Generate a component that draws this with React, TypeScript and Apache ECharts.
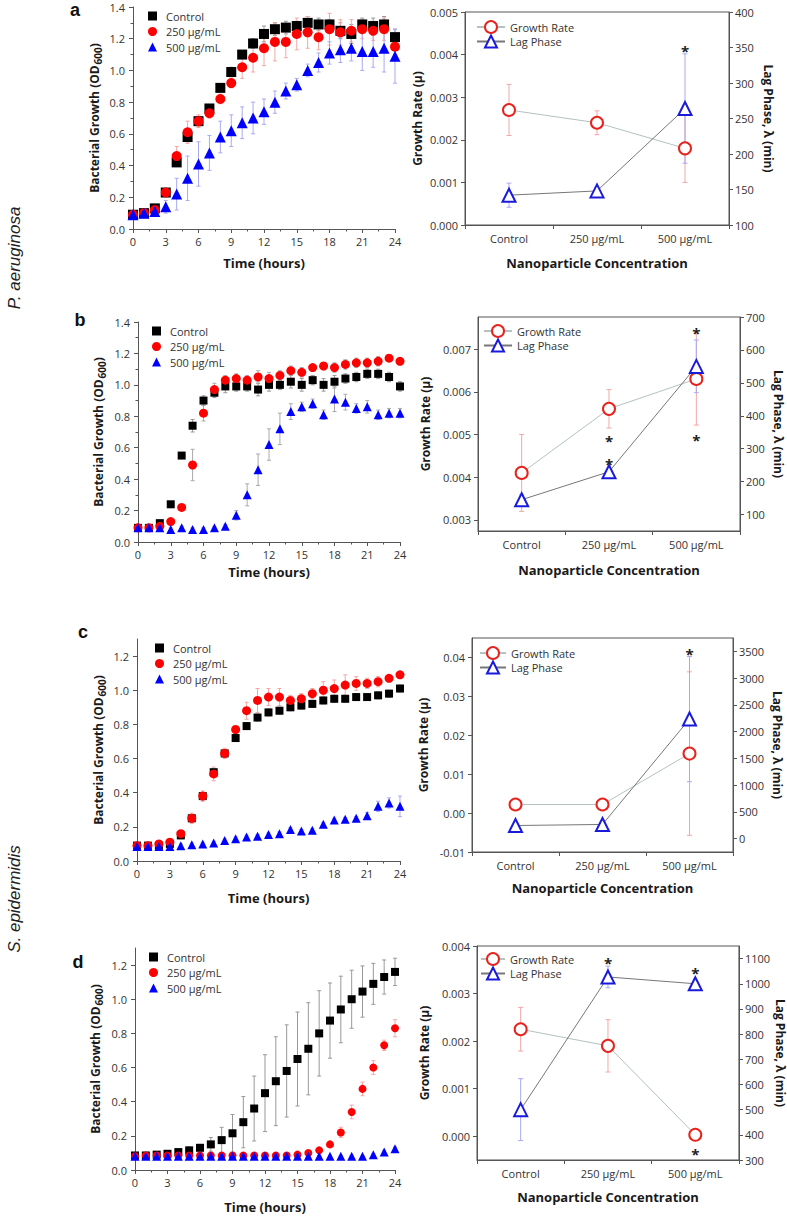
import React, { useEffect, useRef } from 'react';
import * as echarts from 'echarts';

// ---------- data ----------
const HOURS = [0, 1, 2, 3, 4, 5, 6, 7, 8, 9, 10, 11, 12, 13, 14, 15, 16, 17, 18, 19, 20, 21, 22, 23, 24];
const HOUR_STEP = 3;
const OD_TICKS_14 = [0, 0.2, 0.4, 0.6, 0.8, 1.0, 1.2, 1.4];
const OD_TICKS_12 = [0, 0.2, 0.4, 0.6, 0.8, 1.0, 1.2];
const GROUPS = ['Control', '250 µg/mL', '500 µg/mL'];
const CONC = ['Control', '250 µg/mL', '500 µg/mL'];
const RIGHT_NAMES = ['Growth Rate', 'Lag Phase'];

// panel a (P. aeruginosa)
const A_CTRL = [0.09, 0.10, 0.13, 0.23, 0.42, 0.58, 0.68, 0.76, 0.89, 0.99, 1.10, 1.17, 1.23, 1.26, 1.27, 1.28, 1.30, 1.29, 1.29, 1.25, 1.23, 1.29, 1.28, 1.29, 1.21];
const A_CTRL_ERR = [0.01, 0.01, 0.01, 0.02, 0.02, 0.03, 0.03, 0.02, 0.02, 0.03, 0.02, 0.03, 0.05, 0.04, 0.04, 0.03, 0.04, 0.04, 0.03, 0.05, 0.06, 0.04, 0.05, 0.05, 0.05];
const A_250 = [0.09, 0.10, 0.12, 0.23, 0.46, 0.61, 0.68, 0.73, 0.82, 0.92, 1.02, 1.08, 1.14, 1.18, 1.18, 1.23, 1.24, 1.21, 1.26, 1.24, 1.25, 1.26, 1.25, 1.26, 1.15];
const A_250_ERR = [0.01, 0.01, 0.02, 0.02, 0.06, 0.07, 0.04, 0.03, 0.03, 0.03, 0.07, 0.09, 0.11, 0.12, 0.10, 0.10, 0.10, 0.08, 0.10, 0.08, 0.07, 0.06, 0.06, 0.07, 0.05];
const A_500 = [0.09, 0.10, 0.11, 0.14, 0.22, 0.32, 0.41, 0.48, 0.58, 0.62, 0.67, 0.70, 0.74, 0.80, 0.87, 0.91, 1.00, 1.05, 1.11, 1.13, 1.14, 1.12, 1.12, 1.14, 1.09];
const A_500_ERR = [0.01, 0.01, 0.02, 0.04, 0.10, 0.14, 0.14, 0.11, 0.10, 0.10, 0.10, 0.10, 0.08, 0.07, 0.05, 0.04, 0.04, 0.06, 0.07, 0.08, 0.08, 0.12, 0.10, 0.15, 0.17];

// panel b (P. aeruginosa)
const B_CTRL = [0.09, 0.09, 0.12, 0.24, 0.55, 0.74, 0.90, 0.95, 0.99, 0.99, 0.99, 0.97, 1.00, 1.00, 1.02, 1.00, 1.03, 1.00, 1.02, 1.04, 1.05, 1.07, 1.07, 1.05, 0.99];
const B_CTRL_ERR = [0.01, 0.01, 0.01, 0.01, 0.01, 0.04, 0.03, 0.03, 0.04, 0.03, 0.03, 0.04, 0.04, 0.03, 0.04, 0.04, 0.03, 0.04, 0.04, 0.03, 0.03, 0.03, 0.03, 0.03, 0.03];
const B_250 = [0.09, 0.09, 0.10, 0.13, 0.22, 0.49, 0.82, 0.97, 1.03, 1.04, 1.03, 1.05, 1.04, 1.06, 1.09, 1.08, 1.11, 1.12, 1.11, 1.13, 1.14, 1.14, 1.15, 1.17, 1.15];
const B_250_ERR = [0.01, 0.01, 0.01, 0.01, 0.01, 0.10, 0.05, 0.04, 0.03, 0.03, 0.03, 0.04, 0.04, 0.03, 0.03, 0.03, 0.02, 0.02, 0.03, 0.03, 0.03, 0.03, 0.03, 0.02, 0.02];
const B_500 = [0.09, 0.09, 0.09, 0.08, 0.09, 0.08, 0.08, 0.09, 0.10, 0.17, 0.30, 0.46, 0.62, 0.72, 0.83, 0.86, 0.88, 0.81, 0.91, 0.89, 0.85, 0.86, 0.81, 0.82, 0.82];
const B_500_ERR = [0.01, 0.01, 0.01, 0.01, 0.01, 0.01, 0.01, 0.01, 0.01, 0.03, 0.07, 0.10, 0.10, 0.10, 0.05, 0.03, 0.03, 0.03, 0.08, 0.05, 0.03, 0.04, 0.03, 0.03, 0.03];

// panel c (S. epidermidis)
const C_CTRL = [0.09, 0.09, 0.09, 0.10, 0.15, 0.25, 0.38, 0.52, 0.63, 0.72, 0.79, 0.84, 0.87, 0.88, 0.90, 0.91, 0.92, 0.94, 0.95, 0.95, 0.96, 0.96, 0.97, 0.98, 1.01];
const C_CTRL_ERR = [0.01, 0.01, 0.01, 0.01, 0.02, 0.02, 0.02, 0.02, 0.02, 0.02, 0.02, 0.02, 0.02, 0.02, 0.02, 0.02, 0.02, 0.02, 0.02, 0.02, 0.02, 0.02, 0.02, 0.02, 0.02];
const C_250 = [0.09, 0.09, 0.10, 0.11, 0.16, 0.25, 0.38, 0.51, 0.63, 0.77, 0.88, 0.94, 0.96, 0.96, 0.94, 0.95, 0.98, 1.00, 1.01, 1.03, 1.04, 1.04, 1.05, 1.07, 1.09];
const C_250_ERR = [0.01, 0.01, 0.01, 0.02, 0.02, 0.03, 0.03, 0.04, 0.03, 0.02, 0.05, 0.07, 0.05, 0.05, 0.03, 0.03, 0.03, 0.05, 0.05, 0.06, 0.04, 0.03, 0.03, 0.02, 0.02];
const C_500 = [0.085, 0.085, 0.085, 0.085, 0.09, 0.095, 0.10, 0.105, 0.12, 0.13, 0.14, 0.145, 0.155, 0.16, 0.185, 0.175, 0.18, 0.215, 0.24, 0.245, 0.25, 0.265, 0.32, 0.34, 0.32];
const C_500_ERR = [0.01, 0.01, 0.01, 0.01, 0.01, 0.01, 0.01, 0.01, 0.01, 0.01, 0.01, 0.01, 0.01, 0.01, 0.01, 0.01, 0.01, 0.01, 0.01, 0.01, 0.01, 0.02, 0.03, 0.03, 0.06];

// panel d (S. epidermidis)
const D_CTRL = [0.085, 0.085, 0.09, 0.095, 0.105, 0.115, 0.13, 0.15, 0.175, 0.215, 0.28, 0.36, 0.45, 0.52, 0.58, 0.65, 0.71, 0.80, 0.875, 0.94, 1.00, 1.045, 1.09, 1.13, 1.16];
const D_CTRL_ERR = [0.01, 0.01, 0.01, 0.01, 0.01, 0.02, 0.02, 0.04, 0.075, 0.11, 0.15, 0.19, 0.225, 0.26, 0.27, 0.275, 0.27, 0.25, 0.22, 0.195, 0.17, 0.15, 0.12, 0.10, 0.08];
const D_250 = [0.08, 0.085, 0.085, 0.085, 0.085, 0.085, 0.085, 0.085, 0.085, 0.085, 0.085, 0.085, 0.085, 0.085, 0.085, 0.09, 0.10, 0.115, 0.15, 0.22, 0.34, 0.475, 0.60, 0.73, 0.83];
const D_250_ERR = [0.01, 0.01, 0.01, 0.01, 0.01, 0.01, 0.01, 0.01, 0.01, 0.01, 0.01, 0.01, 0.01, 0.01, 0.01, 0.01, 0.01, 0.01, 0.015, 0.03, 0.04, 0.04, 0.04, 0.03, 0.05];
const D_500 = [0.08, 0.08, 0.08, 0.08, 0.08, 0.08, 0.08, 0.08, 0.08, 0.08, 0.08, 0.08, 0.08, 0.08, 0.08, 0.08, 0.08, 0.08, 0.08, 0.08, 0.08, 0.08, 0.09, 0.105, 0.125];
const D_500_ERR = [0.005, 0.005, 0.005, 0.005, 0.005, 0.005, 0.005, 0.005, 0.005, 0.005, 0.005, 0.005, 0.005, 0.005, 0.005, 0.005, 0.005, 0.005, 0.005, 0.005, 0.005, 0.005, 0.005, 0.01, 0.01];

// right panels: growth rate (µ) and lag phase (min)
const A_GR = [0.0027, 0.0024, 0.0018];
const A_GR_ERR = [0.0006, 0.00028, 0.0008];
const A_LAG = [142, 148, 264];
const A_LAG_ERR = [17, 5, 77];
const A_STARS = [[2, 0.00418]];
const A_GR_TICKS = [0, 0.001, 0.002, 0.003, 0.004, 0.005];
const A_LAG_TICKS = [100, 150, 200, 250, 300, 350, 400];

const B_GR = [0.0041, 0.0056, 0.0063];
const B_GR_ERR = [0.0009, 0.00045, 0.00108];
const B_LAG = [145, 230, 550];
const B_LAG_ERR = [15, 10, 80];
const B_STARS = [[1, 0.00494], [1, 0.0044], [2, 0.00747], [2, 0.00496]];
const B_GR_TICKS = [0.003, 0.004, 0.005, 0.006, 0.007];
const B_LAG_TICKS = [100, 200, 300, 400, 500, 600, 700];

const C_GR = [0.0022, 0.0022, 0.0153];
const C_GR_ERR = [0.0004, 0.0004, 0.021];
const C_LAG = [245, 265, 2235];
const C_LAG_ERR = [30, 30, 1170];
const C_STARS = [[2, 0.0418]];
const C_GR_TICKS = [-0.01, 0, 0.01, 0.02, 0.03, 0.04];
const C_LAG_TICKS = [0, 500, 1000, 1500, 2000, 2500, 3000, 3500];

const D_GR = [0.00225, 0.0019, 0.00003];
const D_GR_ERR = [0.00046, 0.00055, 0.00002];
const D_LAG = [500, 1027, 1000];
const D_LAG_ERR = [123, 43, 8];
const D_STARS = [[1, 0.00373], [2, 0.00352], [2, -0.00029]];
const D_GR_TICKS = [0, 0.001, 0.002, 0.003, 0.004];
const D_LAG_TICKS = [300, 400, 500, 600, 700, 800, 900, 1000, 1100];

// ---------- styles ----------
const FONT = '"Open Sans", "Liberation Sans", sans-serif';
const AXIS_COLOR = '#555';
const LABEL_COLOR = '#333';
const TITLE_COLOR = '#1a1a1a';
const MARK_COLORS = ['#000000', '#ff0000', '#0000ff'];
const MARK_SYMBOLS = ['rect', 'circle', 'triangle'];
const GR_COLOR = '#e8231e';
const LAG_COLOR = '#1a1adb';

const LEFT_PANELS = [
  {
    grid: { left: 133, top: 7, width: 262, height: 222 }, ymax: 1.4, yTicks: OD_TICKS_14, minorY: true,
    series: [[A_CTRL, A_CTRL_ERR], [A_250, A_250_ERR], [A_500, A_500_ERR]],
    sizes: [10, 10, 11], errColors: ['#999999', '#f4a6a6', '#a9a9f2'],
    yGap: 30, xGap: 27, legend: { left: 148, top: 10 },
  },
  {
    grid: { left: 138, top: 322, width: 262, height: 220 }, ymax: 1.4, yTicks: OD_TICKS_14, minorY: true,
    series: [[B_CTRL, B_CTRL_ERR], [B_250, B_250_ERR], [B_500, B_500_ERR]],
    sizes: [8, 9, 9], errColors: ['#999999', '#aaaaaa', '#aaaaaa'],
    yGap: 31, xGap: 23, legend: { left: 152, top: 325 },
  },
  {
    grid: { left: 137, top: 639, width: 263, height: 222 }, ymax: 1.3, yTicks: OD_TICKS_12, minorY: false,
    series: [[C_CTRL, C_CTRL_ERR], [C_250, C_250_ERR], [C_500, C_500_ERR]],
    sizes: [8, 9, 9], errColors: ['#999999', '#f4a6a6', '#a9a9f2'],
    yGap: 30, xGap: 30, legend: { left: 155, top: 642 },
  },
  {
    grid: { left: 135, top: 948, width: 260, height: 222 }, ymax: 1.3, yTicks: OD_TICKS_12, minorY: false,
    series: [[D_CTRL, D_CTRL_ERR], [D_250, D_250_ERR], [D_500, D_500_ERR]],
    sizes: [8, 8, 9], errColors: ['#999999', '#f4a6a6', '#a9a9f2'],
    yGap: 31, xGap: 30, legend: { left: 149, top: 951 },
  },
];

const RIGHT_PANELS = [
  {
    grid: { left: 465, top: 12, width: 264, height: 213 },
    gr: [A_GR, A_GR_ERR], lag: [A_LAG, A_LAG_ERR], stars: A_STARS,
    grMin: 0, grMax: 0.005, grTicks: A_GR_TICKS, grDec: 3,
    lagMin: 100, lagMax: 400, lagTicks: A_LAG_TICKS,
    grGap: 42, lagGap: 33, xGap: 31, legend: { left: 476, top: 20, itemWidth: 28 },
  },
  {
    grid: { left: 478, top: 317, width: 262, height: 214 },
    gr: [B_GR, B_GR_ERR], lag: [B_LAG, B_LAG_ERR], stars: B_STARS,
    grMin: 0.00274, grMax: 0.00775, grTicks: B_GR_TICKS, grDec: 3,
    lagMin: 50, lagMax: 700, lagTicks: B_LAG_TICKS,
    grGap: 47, lagGap: 32, xGap: 32, legend: { left: 483, top: 324, itemWidth: 28 },
  },
  {
    grid: { left: 472, top: 638, width: 261, height: 214 },
    gr: [C_GR, C_GR_ERR], lag: [C_LAG, C_LAG_ERR], stars: C_STARS,
    grMin: -0.01, grMax: 0.045, grTicks: C_GR_TICKS, grDec: 2,
    lagMin: -250, lagMax: 3750, lagTicks: C_LAG_TICKS,
    grGap: 43, lagGap: 38, xGap: 29, legend: { left: 479, top: 646, itemWidth: 26 },
  },
  {
    grid: { left: 477, top: 946, width: 263, height: 214 },
    gr: [D_GR, D_GR_ERR], lag: [D_LAG, D_LAG_ERR], stars: D_STARS,
    grMin: -0.0005, grMax: 0.004, grTicks: D_GR_TICKS, grDec: 3,
    lagMin: 300, lagMax: 1150, lagTicks: D_LAG_TICKS,
    grGap: 47, lagGap: 31, xGap: 30, legend: { left: 480, top: 952, itemWidth: 24 },
  },
];

const tickLabel = { color: LABEL_COLOR, fontSize: 11, fontFamily: FONT };
const axisLine = { show: true, onZero: false, lineStyle: { color: AXIS_COLOR, width: 1 } };
const nameStyle = { color: TITLE_COLOR, fontSize: 12, fontWeight: 'bold', fontFamily: FONT };
const minorTick = { show: true, splitNumber: 2, length: 2.5, lineStyle: { color: AXIS_COLOR, width: 1 } };

function errorSeries(xi: number, yi: number, pts: number[][], color: string, cap: number) {
  return {
    type: 'custom',
    xAxisIndex: xi,
    yAxisIndex: yi,
    z: 1,
    silent: true,
    clip: false,
    data: pts,
    encode: { x: 0, y: 1 },
    renderItem: (_p: any, api: any) => {
      const x = api.value(0);
      const y = api.value(1);
      const e = api.value(2);
      const t = api.coord([x, y + e]);
      const b = api.coord([x, y - e]);
      const st = { stroke: color, lineWidth: 1 };
      return {
        type: 'group',
        children: [
          { type: 'line', shape: { x1: t[0], y1: t[1], x2: b[0], y2: b[1] }, style: st },
          { type: 'line', shape: { x1: t[0] - cap, y1: t[1], x2: t[0] + cap, y2: t[1] }, style: st },
          { type: 'line', shape: { x1: b[0] - cap, y1: b[1], x2: b[0] + cap, y2: b[1] }, style: st },
        ],
      };
    },
  };
}

function starSeries(xi: number, yi: number, pts: number[][]) {
  return {
    type: 'custom',
    xAxisIndex: xi,
    yAxisIndex: yi,
    z: 5,
    silent: true,
    clip: false,
    data: pts,
    encode: { x: 0, y: 1 },
    renderItem: (_p: any, api: any) => {
      const c = api.coord([api.value(0), api.value(1)]);
      return {
        type: 'text',
        x: c[0],
        y: c[1] + 4,
        style: { text: '*', fontSize: 15, fontWeight: 'bold', fontFamily: FONT, fill: '#222', align: 'center', verticalAlign: 'middle' },
      };
    },
  };
}

function buildOption() {
  const grid: any[] = [];
  const xAxis: any[] = [];
  const yAxis: any[] = [];
  const series: any[] = [];
  const legend: any[] = [];

  for (let i = 0; i < 4; i++) {
    const L = LEFT_PANELS[i];
    const R = RIGHT_PANELS[i];

    // ----- growth curve panel -----
    const gi = grid.length;
    grid.push({ ...L.grid, containLabel: false });
    const xi = xAxis.length;
    xAxis.push({
      type: 'value', gridIndex: gi, min: 0, max: 24, interval: HOUR_STEP,
      name: 'Time (hours)', nameLocation: 'middle', nameGap: L.xGap, nameTextStyle: { ...nameStyle, fontSize: 13 },
      axisLine, splitLine: { show: false }, minorTick, minorSplitLine: { show: false },
      axisTick: { show: true, length: 4, lineStyle: { color: AXIS_COLOR } },
      axisLabel: { ...tickLabel, margin: 7, formatter: (v: number) => String(v) },
    });
    const yi = yAxis.length;
    const yBase: any = {
      type: 'value', gridIndex: gi, min: 0, max: L.ymax,
      name: '{a|Bacterial Growth (OD}{s|600}{a|)}', nameLocation: 'middle', nameGap: L.yGap, nameRotate: 90,
      nameTextStyle: {
        rich: {
          a: { ...nameStyle },
          s: { ...nameStyle, fontSize: 10, padding: [7, 0, 0, 1] },
        },
      },
      axisLine, splitLine: { show: false }, minorSplitLine: { show: false },
    };
    if (L.minorY) {
      yBase.interval = 0.2;
      yBase.minorTick = minorTick;
      yBase.axisTick = { show: true, length: 4, lineStyle: { color: AXIS_COLOR } };
      yBase.axisLabel = { ...tickLabel, margin: 8, formatter: (v: number) => v.toFixed(1) };
    } else {
      yBase.axisTick = { show: true, length: 4, lineStyle: { color: AXIS_COLOR }, customValues: L.yTicks };
      yBase.axisLabel = { ...tickLabel, margin: 8, customValues: L.yTicks, formatter: (v: number) => v.toFixed(1) };
    }
    yAxis.push(yBase);
    L.series.forEach((s, k) => {
      const pts = HOURS.map((h, j) => [h, s[0][j], s[1][j]]);
      series.push(errorSeries(xi, yi, pts, L.errColors[k], 2));
    });
    L.series.forEach((s, k) => {
      series.push({
        type: 'scatter', name: GROUPS[k], xAxisIndex: xi, yAxisIndex: yi, z: 3,
        symbol: MARK_SYMBOLS[k], symbolSize: L.sizes[k],
        itemStyle: { color: MARK_COLORS[k], opacity: 1 },
        data: HOURS.map((h, j) => [h, s[0][j]]),
      });
    });
    legend.push({
      left: L.legend.left, top: L.legend.top, orient: 'vertical', selectedMode: false, padding: 0,
      itemWidth: 9, itemHeight: 9, itemGap: 3.5,
      data: GROUPS,
      textStyle: { fontSize: 11, color: LABEL_COLOR, fontFamily: FONT, lineHeight: 12, padding: [0, 0, 0, 4] },
    });

    // ----- growth rate / lag phase panel -----
    const gj = grid.length;
    grid.push({ ...R.grid, containLabel: false, show: true, borderColor: AXIS_COLOR, borderWidth: 1, backgroundColor: 'transparent' });
    const xj = xAxis.length;
    xAxis.push({
      type: 'category', gridIndex: gj, data: CONC, boundaryGap: true, position: 'bottom',
      name: 'Nanoparticle Concentration', nameLocation: 'middle', nameGap: R.xGap, nameTextStyle: { ...nameStyle, fontSize: 13 },
      axisLine, splitLine: { show: false },
      axisTick: { show: true, length: 4, lineStyle: { color: AXIS_COLOR } },
      axisLabel: { ...tickLabel, margin: 8 },
    });
    const yl = yAxis.length;
    yAxis.push({
      type: 'value', gridIndex: gj, min: R.grMin, max: R.grMax, position: 'left',
      name: 'Growth Rate (µ)', nameLocation: 'middle', nameGap: R.grGap, nameRotate: 90, nameTextStyle: nameStyle,
      axisLine, splitLine: { show: false },
      axisTick: { show: true, length: 4, lineStyle: { color: AXIS_COLOR }, customValues: R.grTicks },
      axisLabel: { ...tickLabel, margin: 7, customValues: R.grTicks, formatter: (v: number) => v.toFixed(R.grDec) },
    });
    const yr = yAxis.length;
    yAxis.push({
      type: 'value', gridIndex: gj, min: R.lagMin, max: R.lagMax, position: 'right',
      name: 'Lag Phase, λ (min)', nameLocation: 'middle', nameGap: R.lagGap, nameRotate: -90, nameTextStyle: nameStyle,
      axisLine, splitLine: { show: false },
      axisTick: { show: true, length: 4, lineStyle: { color: AXIS_COLOR }, customValues: R.lagTicks },
      axisLabel: { ...tickLabel, margin: 6, customValues: R.lagTicks, formatter: (v: number) => String(v) },
    });
    series.push(errorSeries(xj, yl, CONC.map((_, j) => [j, R.gr[0][j], R.gr[1][j]]), '#f4a6a6', 2.5));
    series.push(errorSeries(xj, yr, CONC.map((_, j) => [j, R.lag[0][j], R.lag[1][j]]), '#a9a9f2', 2.5));
    series.push({
      type: 'line', name: RIGHT_NAMES[0], xAxisIndex: xj, yAxisIndex: yl, z: 3,
      symbol: 'circle', symbolSize: 12,
      itemStyle: { color: '#ffffff', borderColor: GR_COLOR, borderWidth: 2 },
      lineStyle: { color: '#b4c2c2', width: 1 },
      data: R.gr[0],
    });
    series.push({
      type: 'line', name: RIGHT_NAMES[1], xAxisIndex: xj, yAxisIndex: yr, z: 3,
      symbol: 'triangle', symbolSize: 13,
      itemStyle: { color: '#ffffff', borderColor: LAG_COLOR, borderWidth: 2 },
      lineStyle: { color: '#777777', width: 1 },
      data: R.lag[0],
    });
    series.push(starSeries(xj, yl, R.stars));
    legend.push({
      left: R.legend.left, top: R.legend.top, orient: 'vertical', selectedMode: false, padding: 0,
      itemWidth: R.legend.itemWidth, itemHeight: 15, itemGap: 0.5,
      data: RIGHT_NAMES,
      textStyle: { fontSize: 11, color: LABEL_COLOR, fontFamily: FONT, lineHeight: 14 },
    });
  }

  const letterStyle = { fontSize: 18, fontWeight: 'bold', fontFamily: '"Liberation Sans", sans-serif', fill: '#111', align: 'center', verticalAlign: 'middle' };
  const speciesStyle = { fontSize: 17, fontStyle: 'italic', fontFamily: '"Liberation Sans", sans-serif', fill: '#222', align: 'center', verticalAlign: 'middle' };
  const graphic = [
    { type: 'text', x: 75, y: 1, style: { ...letterStyle, verticalAlign: 'top', text: 'a' } },
    { type: 'text', x: 80, y: 320, style: { ...letterStyle, text: 'b' } },
    { type: 'text', x: 83, y: 632, style: { ...letterStyle, text: 'c' } },
    { type: 'text', x: 78, y: 962, style: { ...letterStyle, text: 'd' } },
    { type: 'text', x: 14, y: 258, rotation: Math.PI / 2, style: { ...speciesStyle, text: 'P. aeruginosa' } },
    { type: 'text', x: 14, y: 899, rotation: Math.PI / 2, style: { ...speciesStyle, text: 'S. epidermidis' } },
  ];

  return {
    animation: false,
    backgroundColor: '#ffffff',
    textStyle: { fontFamily: FONT },
    grid, xAxis, yAxis, series, legend, graphic,
  };
}

export default function App() {
  const ref = useRef<HTMLDivElement>(null);
  useEffect(() => {
    if (!ref.current) return;
    const chart = echarts.init(ref.current, null, { renderer: 'svg' });
    chart.setOption(buildOption() as any);
    return () => chart.dispose();
  }, []);
  return (
    <div
      ref={ref}
      style={{ position: 'absolute', left: 0, top: 0, width: 787, height: 1216, background: '#fff' }}
    />
  );
}
